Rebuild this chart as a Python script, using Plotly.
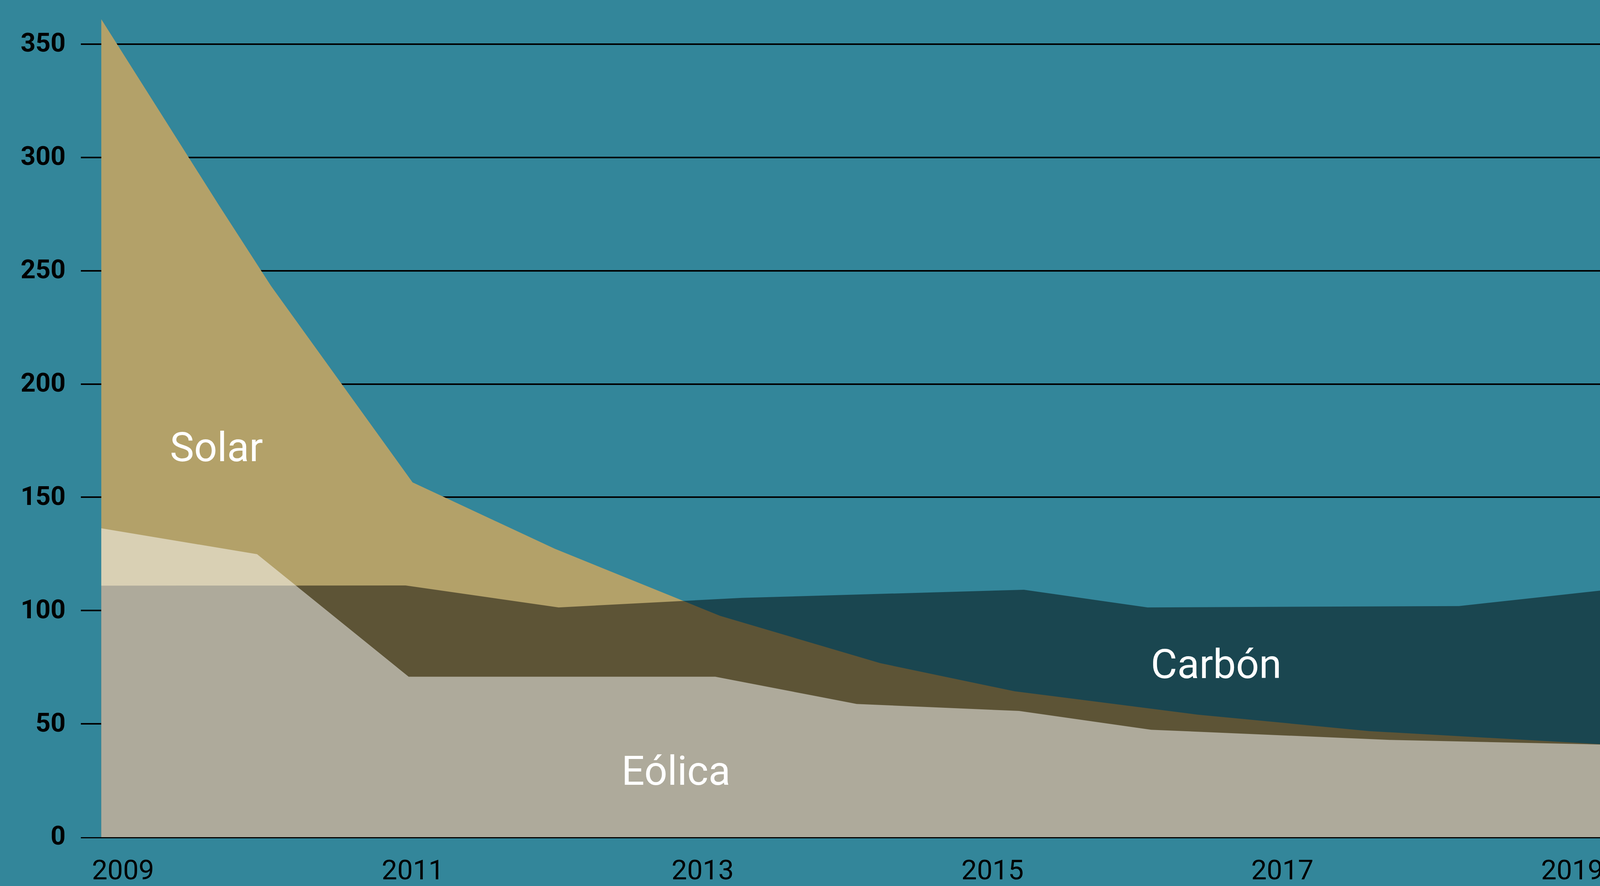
import plotly.graph_objects as go

# ---- data ----
solar_years = [2008.85, 2009.658, 2010.021, 2010.998, 2011.979, 2013.12, 2014.225, 2015.152, 2016.413, 2017.60, 2019.265]
solar_values = [361, 279.3, 243.3, 156.6, 127.3, 97.7, 76.8, 64.4, 54.1, 46.8, 40.8]

carbon_years = [2008.85, 2010.95, 2012.006, 2013.27, 2015.217, 2016.07, 2018.219, 2019.265]
carbon_values = [111.0, 111.1, 101.4, 105.6, 109.2, 101.4, 102.0, 109.3]

eolica_years = [2008.85, 2009.925, 2010.971, 2013.087, 2014.063, 2015.182, 2016.095, 2017.747, 2019.265]
eolica_values = [136.3, 124.9, 70.8, 70.8, 58.8, 55.7, 47.4, 42.9, 40.8]

x_tick_years = [2009, 2011, 2013, 2015, 2017, 2019]
x_tick_labels = ["2009", "2011", "2013", "2015", "2017", "2019"]
y_tick_values = [0, 50, 100, 150, 200, 250, 300, 350]

labels = ["Solar", "Eólica", "Carbón"]
label_x = [2009.645, 2012.815, 2016.545]
label_y = [172, 29.3, 76.3]

# ---- styles ----
BG = "#33869A"
TAN = "#B3A169"
CARBON_FILL = "rgba(0,0,0,0.48)"
EOLICA_FILL = "rgba(255,255,255,0.5)"

fig = go.Figure()

# background-coloured mask under carbon area (hides gridlines there)
fig.add_trace(go.Scatter(x=carbon_years, y=carbon_values, mode="lines",
                         fill="tozeroy", fillcolor=BG, line=dict(width=0),
                         hoverinfo="skip", showlegend=False))
fig.add_trace(go.Scatter(x=solar_years, y=solar_values, mode="lines", name="Solar",
                         fill="tozeroy", fillcolor=TAN, line=dict(width=0),
                         showlegend=False))
fig.add_trace(go.Scatter(x=carbon_years, y=carbon_values, mode="lines", name="Carbón",
                         fill="tozeroy", fillcolor=CARBON_FILL, line=dict(width=0),
                         showlegend=False))
fig.add_trace(go.Scatter(x=eolica_years, y=eolica_values, mode="lines", name="Eólica",
                         fill="tozeroy", fillcolor=EOLICA_FILL, line=dict(width=0),
                         showlegend=False))

for t, xv, yv in zip(labels, label_x, label_y):
    fig.add_annotation(x=xv, y=yv, xref="x", yref="y", text=t, showarrow=False,
                       xanchor="center", yanchor="middle",
                       font=dict(family="Roboto", size=104, color="white"))

fig.update_layout(
    width=4123, height=2267,
    paper_bgcolor=BG, plot_bgcolor=BG,
    margin=dict(l=207, r=0, t=0, b=120, pad=0),
    showlegend=False,
    xaxis=dict(range=[2008.709, 2019.265], tickvals=x_tick_years, ticktext=x_tick_labels,
               showgrid=False, zeroline=False, showline=True, linecolor="black",
               linewidth=3, ticks="", ticklabelstandoff=20,
               tickfont=dict(family="Roboto", size=71, color="black")),
    yaxis=dict(range=[0, 369.5], tickvals=y_tick_values, showgrid=True,
               gridcolor="black", gridwidth=4, zeroline=False, showline=False,
               ticks="", ticklabelstandoff=38, ticklabelshift=-4,
               tickfont=dict(family="Roboto", size=67, color="black", weight="bold")),
)

fig.write_html("out.html", config={"displayModeBar": False},
               post_script="document.body.style.margin='0';document.body.style.overflow='hidden';document.body.style.background='%s';" % BG)
